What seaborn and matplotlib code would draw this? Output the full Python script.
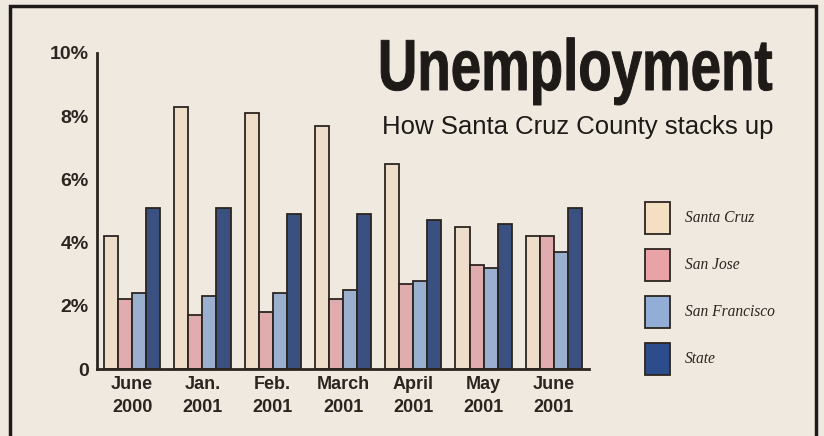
import numpy as np
import pandas as pd
import matplotlib
matplotlib.use("Agg")
import matplotlib.pyplot as plt
import seaborn as sns
from matplotlib.patches import Rectangle
from matplotlib.patheffects import AbstractPathEffect
from matplotlib.transforms import Affine2D

months = ["June\n2000", "Jan.\n2001", "Feb.\n2001", "March\n2001", "April\n2001", "May\n2001", "June\n2001"]
areas = ["Santa Cruz", "San Jose", "San Francisco", "State"]
santa_cruz = [4.2, 8.3, 8.1, 7.7, 6.5, 4.5, 4.2]
san_jose = [2.2, 1.7, 1.8, 2.2, 2.7, 3.3, 4.2]
san_francisco = [2.4, 2.3, 2.4, 2.5, 2.8, 3.2, 3.7]
state = [5.1, 5.1, 4.9, 4.9, 4.7, 4.6, 5.1]
colors = ["#f4dfc3", "#e9a3a6", "#93aed6", "#2d4c8c"]

df = pd.DataFrame({
    "month": months * 4,
    "area": [a for a in areas for _ in months],
    "rate": santa_cruz + san_jose + san_francisco + state,
})


class Squeeze(AbstractPathEffect):
    # narrows a text horizontally around a fixed x (pixels) and thickens it a bit
    def __init__(self, sx, x0, lw=0.7, color="#1e1a18"):
        super().__init__()
        self.tr = Affine2D().translate(-x0, 0).scale(sx, 1).translate(x0, 0)
        self.lw = lw
        self.color = color

    def draw_path(self, renderer, gc, tpath, affine, rgbFace=None):
        gc0 = renderer.new_gc()
        gc0.copy_properties(gc)
        gc0.set_linewidth(self.lw)
        gc0.set_foreground(self.color)
        gc0.set_joinstyle("round")
        renderer.draw_path(gc0, tpath, affine + self.tr, rgbFace)
        gc0.restore()


sns.set_style("white")
plt.rcParams["font.family"] = ["Liberation Sans", "DejaVu Sans"]
bg = "#efe9df"
ink = "#2b2420"

fig = plt.figure(figsize=(8.24, 4.36), dpi=100, facecolor=bg)
ax = fig.add_axes([97 / 824, 1 - 369 / 436, 492 / 824, 316 / 436])
ax.set_facecolor("none")

sns.barplot(data=df, x="month", y="rate", hue="area", palette=colors,
            width=0.8, edgecolor=ink, linewidth=1.3, ax=ax, legend=False)

ax.set_xlim(-0.5, 6.5)
ax.set_ylim(0, 10)
ax.set_xlabel("")
ax.set_ylabel("")
for s in ["top", "right"]:
    ax.spines[s].set_visible(False)
for s in ["left", "bottom"]:
    ax.spines[s].set_color(ink)
    ax.spines[s].set_linewidth(2)

ax.set_yticks([0, 2, 4, 6, 8, 10])
ax.set_yticklabels(["0", "2%", "4%", "6%", "8%", "10%"], fontsize=14, fontweight="bold", color=ink)
ax.set_yticks([1, 3, 5, 7, 9], minor=True)
ax.tick_params(axis="y", which="both", direction="in", length=9, width=2, color=ink, pad=6)

ax.set_xticks(range(7))
ax.set_xticklabels(months, fontsize=13, fontweight="bold", color=ink, linespacing=1.45)
ax.set_xticks(np.arange(0.5, 7, 1), minor=True)
ax.tick_params(axis="x", which="major", length=0, pad=5)
ax.tick_params(axis="x", which="minor", direction="in", length=5, width=2, color=ink)

# title block
title = fig.text(773 / 824, 1 - 90 / 436, "Unemployment", ha="right", va="baseline",
                 fontsize=52, fontweight="bold", color="#1e1a18")
fig.text(773 / 824, 1 - 134 / 436, "How Santa Cruz County stacks up", ha="right", va="baseline",
         fontsize=18.5, color="#1e1a18")

# legend
for i, (name, c) in enumerate(zip(areas, colors)):
    y0 = 202 + i * 47
    fig.patches.append(Rectangle((645 / 824, 1 - (y0 + 32) / 436), 25 / 824, 32 / 436,
                                 transform=fig.transFigure, facecolor=c,
                                 edgecolor=ink, linewidth=1.3))
    fig.text(685 / 824, 1 - (y0 + 16) / 436, name, ha="left", va="center",
             fontsize=11.2, style="italic", color=ink,
             family=["Liberation Serif", "DejaVu Serif"])

# outer frame
fig.patches.append(Rectangle((10 / 824, -0.05), 806 / 824, 1 - 6 / 436 + 0.05,
                             transform=fig.transFigure, facecolor="none",
                             edgecolor="#1e1a18", linewidth=2.5))

# condensed headline: squeeze to the printed width
fig.canvas.draw()
bb = title.get_window_extent()
title.set_path_effects([Squeeze(395 / bb.width, bb.x1 - 0.5)])

fig.savefig("out.png", dpi=100, facecolor=bg)
